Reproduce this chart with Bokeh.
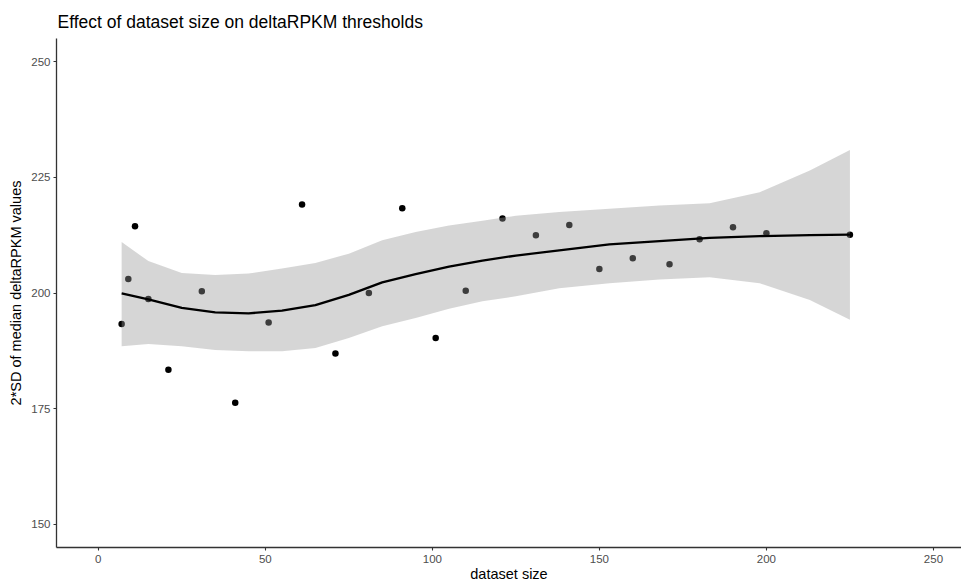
from bokeh.plotting import figure
from bokeh.models import Range1d, FixedTicker
from bokeh.embed import file_html
from bokeh.resources import INLINE

# ---- data ----
dataset_size = [7, 9, 11, 15, 21, 31, 41, 51, 61, 71, 81, 91, 101, 110,
                121, 131, 141, 150, 160, 171, 180, 190, 200, 225]
sd_values = [193.3, 203.0, 214.4, 198.7, 183.4, 200.4, 176.3, 193.6, 219.1,
             186.9, 200.0, 218.3, 190.3, 200.5, 216.1, 212.5, 214.7, 205.2,
             207.5, 206.2, 211.6, 214.2, 212.9, 212.6]

smooth_x = [7, 15, 25, 35, 45, 55, 65, 75, 85, 95, 105, 115, 125, 138,
            153, 168, 183, 198, 213, 225]
smooth_fit = [199.9, 198.6, 196.8, 195.8, 195.6, 196.2, 197.4, 199.6, 202.3,
              204.1, 205.7, 207.0, 208.1, 209.2, 210.5, 211.2, 211.9, 212.3,
              212.5, 212.6]
smooth_upper = [211.0, 206.9, 204.3, 203.9, 204.2, 205.3, 206.5, 208.5, 211.4,
                213.2, 214.6, 215.6, 216.7, 217.5, 218.2, 218.9, 219.4, 221.8,
                226.5, 230.9]
smooth_lower = [188.5, 189.0, 188.5, 187.7, 187.4, 187.4, 188.1, 190.3, 192.8,
                194.6, 196.6, 198.2, 199.3, 201.0, 202.1, 202.9, 203.4, 202.1,
                198.5, 194.2]

x_ticks = [0, 50, 100, 150, 200, 250]
y_ticks = [150, 175, 200, 225, 250]

title_text = "Effect of dataset size on deltaRPKM thresholds"
x_label = "dataset size"
y_label = "2*SD of median deltaRPKM values"

FONT = "Liberation Sans"

p = figure(width=961, height=584, output_backend="svg", toolbar_location=None,
           x_range=Range1d(-12.5, 258.4), y_range=Range1d(145.0, 255.0),
           title=title_text, x_axis_label=x_label, y_axis_label=y_label)
p.min_border_left = 56
p.min_border_right = 0
p.min_border_top = 38
p.min_border_bottom = 37
p.outline_line_color = None
p.background_fill_color = "white"
p.border_fill_color = "white"
p.xgrid.visible = False
p.ygrid.visible = False

p.title.text_font = FONT
p.title.text_font_size = "17.5px"
p.title.text_font_style = "normal"
p.title.text_color = "black"
p.title.align = "left"
p.title.offset = 1
p.title.standoff = 13

for ax in (p.xaxis[0], p.yaxis[0]):
    ax.axis_line_color = "#333333"
    ax.axis_line_width = 1.3
    ax.major_tick_line_color = "#333333"
    ax.major_tick_line_width = 1.1
    ax.major_tick_out = 3
    ax.major_tick_in = 0
    ax.minor_tick_line_color = None
    ax.major_label_text_font = FONT
    ax.major_label_text_font_size = "11.5px"
    ax.major_label_text_color = "#4D4D4D"
    ax.axis_label_text_font = FONT
    ax.axis_label_text_font_size = "14.5px"
    ax.axis_label_text_font_style = "normal"
    ax.axis_label_text_color = "black"

p.xaxis.ticker = FixedTicker(ticks=x_ticks)
p.yaxis.ticker = FixedTicker(ticks=y_ticks)
p.xaxis.major_label_standoff = 4
p.yaxis.major_label_standoff = 3
p.xaxis.axis_label_standoff = 0
p.yaxis.axis_label_standoff = 4

# points first (band is drawn over them, like ggplot)
p.scatter(dataset_size, sd_values, size=6.5, color="black", line_color=None)

# confidence band
band_x = list(smooth_x) + list(smooth_x[::-1])
band_y = list(smooth_upper) + list(smooth_lower[::-1])
p.patch(band_x, band_y, fill_color="#999999", fill_alpha=0.4, line_color=None)

# smooth line
p.line(smooth_x, smooth_fit, line_color="black", line_width=2.3)

open("out.html", "w").write(file_html(p, INLINE))
